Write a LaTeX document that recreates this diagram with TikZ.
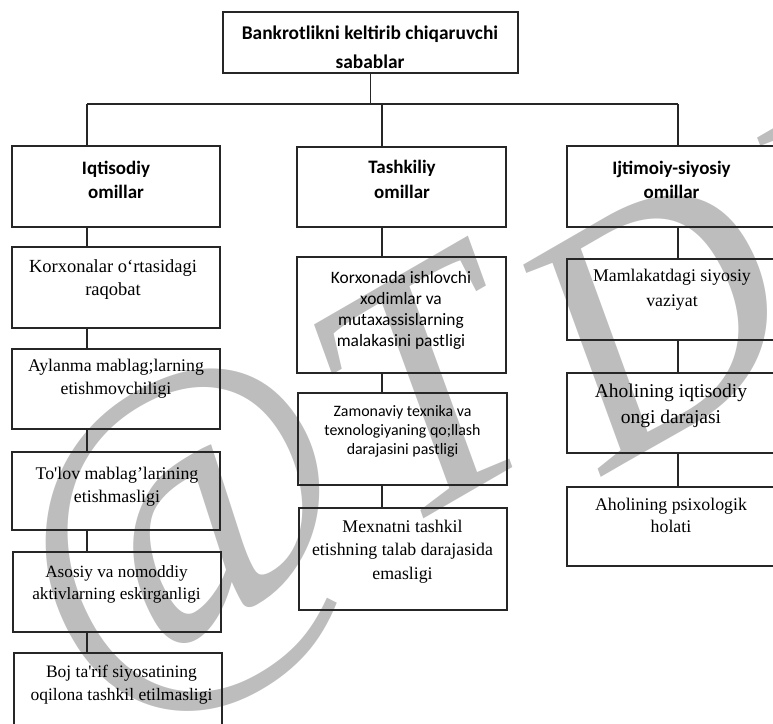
\documentclass[tikz,border=0pt]{standalone}
\usepackage{fontspec}
\setmainfont{Liberation Serif}
\newfontfamily\calib{Carlito}
\newfontfamily\plainq{Liberation Serif}[Ligatures=TeXOff]
\newcommand\sq{{\plainq'}}
\begin{document}
\begin{tikzpicture}[x=1pt,y=-1pt,
  box/.style={draw=black!85, line width=1.1pt, inner sep=0pt, outer sep=0pt},
  hd/.style={align=center, inner sep=0pt, font=\calib\bfseries\fontsize{19}{24.5}\selectfont},
  tm/.style={align=center, inner sep=0pt, font=\fontsize{17.5}{23}\selectfont},
  cb/.style={align=center, inner sep=0pt, font=\calib\fontsize{17.4}{21}\selectfont},
  conn/.style={draw=black!85, line width=1.1pt},
  wmk/.style={text=black!26, rotate=30, inner sep=0pt, font=\itshape\fontsize{340}{340}\selectfont}]
\useasboundingbox (0,0) rectangle (773,723);
\clip (0,0) rectangle (773,723);
% watermark
\node[wmk, font=\itshape\fontsize{375}{375}\selectfont] (wa) at (192,545) {@};
\node[wmk] (wt) at (425,390) {T};
\node[wmk] (wd) at (655,318) {D};
\node[wmk] (wi) at (830,225) {I};
% boxes
\node[box, minimum width=295pt, minimum height=61pt] (top) at (370.5,42.5) {};
\node[box, minimum width=208pt, minimum height=81pt] (L0) at (116,186.5) {};
\node[box, minimum width=208pt, minimum height=81pt] (L1) at (116,287.5) {};
\node[box, minimum width=208pt, minimum height=80pt] (L2) at (116,389) {};
\node[box, minimum width=208pt, minimum height=78pt] (L3) at (116,491) {};
\node[box, minimum width=208pt, minimum height=80pt] (L4) at (117,592) {};
\node[box, minimum width=208pt, minimum height=107pt] (L5) at (118,706.5) {};
\node[box, minimum width=209pt, minimum height=80pt] (M0) at (401.5,187) {};
\node[box, minimum width=209pt, minimum height=116pt] (M1) at (401.5,315) {};
\node[box, minimum width=209pt, minimum height=92pt] (M2) at (402.5,439) {};
\node[box, minimum width=208pt, minimum height=102pt] (M3) at (403,559) {};
\node[box, minimum width=213pt, minimum height=81pt] (R0) at (673.5,186.5) {};
\node[box, minimum width=213pt, minimum height=81pt] (R1) at (673.5,299.5) {};
\node[box, minimum width=213pt, minimum height=80pt] (R2) at (673.5,413) {};
\node[box, minimum width=213pt, minimum height=79pt] (R3) at (673.5,526.5) {};
% texts
\node[hd, font=\calib\bfseries\fontsize{19.4}{28.5}\selectfont] (tt) at (370,47) {Bankrotlikni keltirib chiqaruvchi\\sabablar};
\node[hd] (tL0) at (116,180) {Iqtisodiy\\omillar};
\node[hd] (tM0) at (402,179.5) {Tashkiliy\\omillar};
\node[hd] (tR0) at (671.5,180) {Ijtimoiy-siyosiy\\omillar};
\node[tm, font=\fontsize{18.5}{23}\selectfont] (tL1) at (113,279.5) {Korxonalar o‘rtasidagi\\raqobat};
\node[tm, font=\fontsize{17.8}{23}\selectfont] (tL2) at (116,379) {Aylanma mablag;larning\\etishmovchiligi};
\node[tm, font=\fontsize{17.8}{23}\selectfont] (tL3) at (117,486.5) {To\sq lov mablag’larining\\etishmasligi};
\node[tm, font=\fontsize{17.2}{22}\selectfont] (tL4) at (116.5,584) {Asosiy va nomoddiy\\aktivlarning eskirganligi};
\node[tm] (tL5) at (121.5,684.5) {Boj ta\sq rif siyosatining\\oqilona tashkil etilmasligi};
\node[cb] (tM1) at (401,310) {Korxonada ishlovchi\\xodimlar va\\mutaxassislarning\\malakasini pastligi};
\node[cb, font=\calib\fontsize{15.9}{19}\selectfont] (tM2) at (402.5,431) {Zamonaviy texnika va\\texnologiyaning qo;llash\\darajasini pastligi};
\node[tm, font=\fontsize{17.8}{23.5}\selectfont] (tM3) at (402.5,551.5) {Mexnatni tashkil\\etishning talab darajasida\\emasligi};
\node[tm, font=\fontsize{17.8}{25}\selectfont] (tR1) at (672,290) {Mamlakatdagi siyosiy\\vaziyat};
\node[tm, font=\fontsize{19.5}{26}\selectfont] (tR2) at (671,406) {Aholining iqtisodiy\\ongi darajasi};
\node[tm, font=\fontsize{17.8}{22}\selectfont] (tR3) at (671,515) {Aholining psixologik\\holati};
% connectors
\coordinate (hl) at (87,104);
\coordinate (hm) at (382,104);
\coordinate (hr) at (678,104);
\draw[conn] (top.south) -- (top.south |- hl);
\draw[conn] (hl) -- (hr);
\draw[conn] (hl) -- (hl |- L0.north);
\draw[conn] (hm) -- (hm |- M0.north);
\draw[conn] (hr) -- (hr |- R0.north);
\foreach \a/\b in {L0/L1,L1/L2,L2/L3,L3/L4,L4/L5}
  \draw[conn] (hl |- \a.south) -- (hl |- \b.north);
\foreach \a/\b in {M0/M1,M1/M2,M2/M3}
  \draw[conn] (hm |- \a.south) -- (hm |- \b.north);
\foreach \a/\b in {R0/R1,R1/R2,R2/R3}
  \draw[conn] (hr |- \a.south) -- (hr |- \b.north);
\end{tikzpicture}
\end{document}
